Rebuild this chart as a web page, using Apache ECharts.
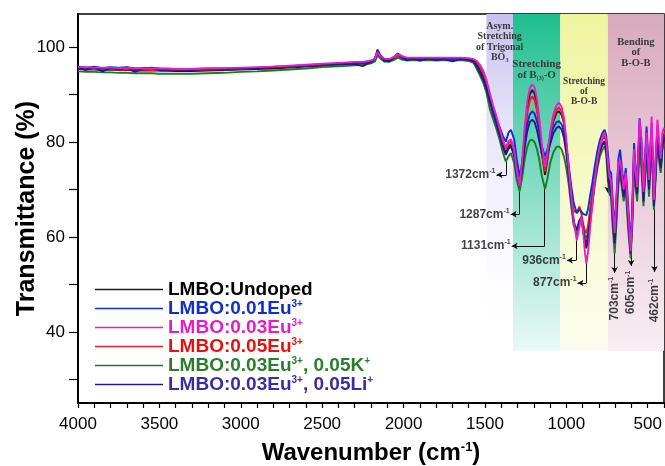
<!DOCTYPE html>
<html>
<head>
<meta charset="utf-8">
<script src="https://cdn.jsdelivr.net/npm/echarts@6/dist/echarts.min.js"></script>
<style>
  html, body { margin: 0; padding: 0; background: #fff; }
  #chart { width: 665px; height: 466px; }
</style>
</head>
<body>
<div id="chart"></div>
<script>
// ---------------------------------------------------
// FTIR data
// ---------------------------------------------------
const wavenumbers = [
  4000,3950,3900,3850,3800,3750,3700,3650,3600,3550,
  3500,3400,3300,3200,3100,3000,2900,2800,2700,2600,
  2500,2400,2300,2250,2200,2175,2160,2145,2120,2090,
  2060,2035,2010,1980,1940,1900,1850,1800,1750,1700,
  1650,1600,1570,1550,1530,1510,1490,1470,1450,1430,
  1410,1390,1372,1355,1340,1320,1305,1287,1270,1255,
  1240,1225,1210,1195,1180,1165,1150,1131,1115,1100,
  1080,1060,1045,1030,1015,1000,985,970,955,936,
  920,908,895,886,877,866,855,840,825,810,
  795,780,765,755,745,735,725,715,703,692,
  680,670,660,648,635,620,605,595,584,575,
  565,550,540,526,507,492,476,462,450,440,
  430,420,410,400
];

const undoped = [
  95.4,95.3,95.3,95.2,95.3,95.2,95.2,95.1,95.1,95.1,
  95.1,95.0,95.0,95.1,95.2,95.3,95.4,95.5,95.7,95.9,
  96.1,96.3,96.5,96.5,96.9,97.3,98.7,98.1,97.3,97.1,
  97.5,98.1,97.7,97.4,97.5,97.4,97.5,97.4,97.5,97.4,
  97.5,97.4,97.1,96.4,95.2,93.8,91.8,89.0,86.5,84.2,
  81.8,79.3,77.7,79.0,79.6,77.5,73.5,70.3,75.5,82.0,
  87.0,90.0,91.0,90.2,87.5,83.0,77.5,73.1,76.5,80.5,
  84.3,86.2,86.5,85.8,84.0,79.5,74.0,68.5,63.5,60.3,
  63.2,64.0,61.0,58.8,57.6,59.5,63.0,67.5,72.0,75.5,
  78.0,79.5,80.2,79.0,74.5,71.0,70.5,65.0,59.5,66.0,
  73.5,75.5,72.5,69.0,72.0,64.5,57.0,64.0,77.0,72.5,
  69.5,82.5,79.0,68.5,80.5,71.0,82.5,66.5,75.0,82.0,
  78.0,74.0,79.0,81.0
];

const eu001 = [
  95.9,95.7,95.9,95.6,95.8,95.7,95.8,95.5,95.6,95.7,
  95.5,95.4,95.4,95.5,95.5,95.6,95.7,95.9,96.0,96.2,
  96.4,96.6,96.7,96.7,97.1,97.6,99.3,98.4,97.6,97.3,
  97.9,98.6,98.1,97.6,97.7,97.6,97.7,97.6,97.6,97.6,
  97.6,97.5,97.2,96.2,94.8,93.3,91.5,88.8,86.4,84.8,
  83.2,81.3,80.1,82.0,82.6,80.5,76.5,72.7,76.0,80.5,
  83.8,85.8,86.5,86.0,84.3,81.8,79.0,77.0,78.6,80.8,
  83.0,84.2,84.4,83.8,82.3,79.0,75.0,70.8,67.2,65.0,
  65.8,65.5,64.8,64.6,64.6,66.0,68.5,71.5,75.0,78.0,
  80.3,81.8,82.6,81.5,77.7,74.0,73.5,68.0,61.5,68.5,
  76.5,78.4,75.0,71.0,74.5,66.5,58.5,66.0,79.8,75.0,
  71.5,85.0,81.0,71.0,83.3,73.5,83.0,69.0,77.0,82.5,
  78.5,75.0,80.0,81.5
];

const eu003 = [
  95.8,95.8,95.7,95.7,95.7,95.6,95.6,95.6,95.5,95.5,
  95.5,95.4,95.4,95.5,95.6,95.7,95.8,95.9,96.1,96.3,
  96.5,96.7,96.9,96.9,97.2,97.6,99.0,98.3,97.6,97.5,
  97.9,98.5,98.1,97.8,97.8,97.8,97.8,97.8,97.8,97.8,
  97.8,97.7,97.5,97.1,96.3,95.0,93.0,90.3,87.8,85.5,
  83.0,80.4,78.8,80.2,80.6,78.2,74.0,70.8,76.5,83.5,
  88.5,91.3,92.2,91.5,89.0,84.8,79.3,74.8,78.0,82.0,
  85.8,87.8,88.3,87.5,85.2,80.5,74.5,68.8,63.5,59.3,
  62.0,64.3,60.5,56.8,54.4,57.0,61.5,66.8,72.2,76.0,
  79.0,80.8,82.0,80.5,76.0,72.5,72.0,66.0,60.8,68.0,
  75.5,76.3,74.0,70.0,73.5,65.0,57.0,64.5,78.5,74.0,
  70.5,84.8,81.0,69.5,82.0,72.0,85.4,67.8,77.0,84.7,
  80.0,76.5,82.0,83.0
];

const eu005 = [
  95.5,95.5,95.4,95.4,95.4,95.3,95.3,95.3,95.3,95.2,
  95.2,95.2,95.2,95.3,95.4,95.5,95.6,95.8,95.9,96.1,
  96.3,96.5,96.7,96.8,97.1,97.4,98.8,98.1,97.4,97.3,
  97.7,98.2,97.8,97.5,97.6,97.6,97.6,97.6,97.6,97.6,
  97.6,97.5,97.3,96.8,95.8,94.5,92.5,89.8,87.2,85.0,
  82.6,80.2,78.6,79.8,80.2,78.0,74.0,71.0,75.5,81.5,
  86.0,88.7,89.6,88.9,86.5,82.5,77.5,73.8,77.0,81.0,
  84.8,86.8,87.3,86.5,84.3,79.5,73.5,68.5,65.5,65.2,
  66.4,65.0,62.5,61.3,60.8,62.5,65.5,69.5,73.5,76.8,
  79.0,80.5,81.2,80.0,75.5,72.0,71.5,66.0,61.0,67.5,
  74.8,76.0,73.0,69.5,73.0,65.5,58.0,65.0,77.5,73.0,
  70.0,83.5,80.0,69.5,81.5,72.0,84.0,68.0,76.5,83.5,
  79.0,75.5,80.5,82.0
];

const eu003K = [
  94.9,94.8,94.8,94.7,94.7,94.6,94.6,94.5,94.5,94.5,
  94.4,94.4,94.4,94.5,94.6,94.8,94.9,95.1,95.3,95.5,
  95.8,96.0,96.2,96.3,96.6,97.0,98.3,97.7,97.0,96.9,
  97.3,97.8,97.4,97.2,97.3,97.2,97.3,97.2,97.3,97.2,
  97.3,97.1,96.7,95.4,94.0,92.5,90.3,87.0,84.8,82.8,
  80.5,77.8,75.9,77.0,77.7,75.5,72.0,69.6,72.8,76.5,
  79.0,80.3,80.5,80.0,78.5,76.0,72.8,70.1,72.5,75.5,
  77.8,79.0,79.1,78.5,77.0,74.5,71.0,66.5,62.5,60.8,
  63.0,64.0,61.5,60.3,59.8,61.0,63.5,67.0,71.0,74.3,
  76.8,78.3,79.1,77.5,72.0,69.0,68.5,62.0,56.5,63.0,
  71.0,73.5,70.5,67.5,70.0,61.5,55.5,62.0,74.5,70.5,
  67.5,78.0,75.0,66.5,77.5,68.5,79.5,65.7,73.0,80.5,
  76.0,73.5,78.5,79.5
];

const eu003Li = [
  95.7,95.2,95.8,94.9,95.6,95.3,95.7,94.8,95.5,95.6,
  95.1,95.3,95.2,95.4,95.3,95.6,95.6,95.8,95.9,96.1,
  96.3,96.5,96.4,96.0,96.9,97.5,99.5,98.4,97.2,97.0,
  97.8,98.7,97.8,97.3,97.6,97.2,97.6,97.3,97.5,97.0,
  97.5,97.3,97.0,96.0,94.6,93.1,91.2,88.5,86.0,83.8,
  81.5,79.0,77.3,78.6,79.1,77.0,73.4,71.0,74.5,79.0,
  82.3,84.2,84.7,84.2,82.5,80.0,77.5,75.9,77.5,79.5,
  81.8,83.0,83.3,82.7,81.0,77.5,72.8,67.5,63.0,61.5,
  63.5,64.2,61.0,59.4,58.7,60.3,63.5,67.5,71.8,75.2,
  77.8,79.3,80.0,78.5,73.8,70.2,69.5,63.5,58.7,65.0,
  73.0,75.0,72.0,68.5,72.0,63.0,56.5,63.5,76.5,72.0,
  69.0,83.0,78.5,67.5,79.5,70.0,81.5,66.5,74.5,81.5,
  77.5,74.5,79.5,80.5
];

const xTickLabels = [4000, 3500, 3000, 2500, 2000, 1500, 1000, 500];
const xMinorTicks = [];
for (let w = 4000; w >= 400; w -= 100) xMinorTicks.push(w);
const yTickLabels = [40, 60, 80, 100];
const yTicks = [30, 40, 50, 60, 70, 80, 90, 100];

// spectral regions [from, to] in cm-1
const bandRanges = [[1491, 1328], [1328, 1037], [1037, 745], [745, 400]];

// peak markers: horizontal label ones
const hPeaks = [
  { label: "1372", w: 1368, top: 75.9, low: 73.1, tip: 1429 },
  { label: "1287", w: 1287, top: 69.6, low: 64.8, tip: 1342 },
  { label: "1131", w: 1133, top: 70.1, low: 58.1, tip: 1336 },
  { label: "936",  w: 939,  top: 59.3, low: 55.1, tip: 997 },
  { label: "877",  w: 877,  top: 55.7, low: 50.3, tip: 931 }
];
// vertical (rotated) label ones
const vPeaks = [
  { label: "703", w: 703, top: 56.6, low: 52.4, text: 47.0 },
  { label: "605", w: 602, top: 57.7, low: 53.9, text: 48.3 },
  { label: "462", w: 458, top: 65.7, low: 52.6, text: 46.6 }
];
const extraArrow = { w: 745, top: 74.8, low: 69.3 };

// ---------------------------------------------------
// Series definitions
// ---------------------------------------------------
const FONT = 'Arial, "Liberation Sans", sans-serif';
const SERIF = '"Times New Roman", "Liberation Serif", serif';

const seriesDefs = [
  { name: "undoped", values: undoped, color: "#1c1c1c", text: "#000000", label: "LMBO:Undoped" },
  { name: "eu001",   values: eu001,   color: "#0e2fd2", text: "#0e2fd2", label: "LMBO:0.01Eu{sup|3+}" },
  { name: "eu003",   values: eu003,   color: "#ea1ccb", text: "#e61cc6", label: "LMBO:0.03Eu{sup|3+}" },
  { name: "eu005",   values: eu005,   color: "#ee1c1c", text: "#e8100f", label: "LMBO:0.05Eu{sup|3+}" },
  { name: "eu003K",  values: eu003K,  color: "#1f7a22", text: "#2a7d2c", label: "LMBO:0.03Eu{sup|3+}, 0.05K{sup|+}" },
  { name: "eu003Li", values: eu003Li, color: "#211b86", text: "#3a2da3", label: "LMBO:0.03Eu{sup|3+}, 0.05Li{sup|+}" }
];

// draw order: magenta on top in the fingerprint area
const drawOrder = ["undoped", "eu005", "eu003K", "eu001", "eu003Li", "eu003"];

const lineSeries = drawOrder.map((key, idx) => {
  const d = seriesDefs.find(s => s.name === key);
  return {
    name: d.name,
    type: "line",
    showSymbol: false,
    symbol: "none",
    z: 3 + idx,
    lineStyle: { color: d.color, width: 1.9 },
    itemStyle: { color: d.color },
    data: wavenumbers.map((w, i) => [w, d.values[i]])
  };
});

const grad = (top, bottom) =>
  new echarts.graphic.LinearGradient(0, 0, 0, 1, [
    { offset: 0, color: top },
    { offset: 1, color: bottom }
  ]);

const bandStyles = [
  { color: grad("#c8c1f1", "rgba(255,255,255,0)"), dist: 7,  size: 10, lh: 10.5,
    text: "Asym.\nStretching\nof Trigonal\nBO{sub|3}" },
  { color: grad("#1fbf8f", "#eaf9f8"), dist: 45, size: 11, lh: 11,
    text: "Stretching\nof B{sub|(3)}-O" },
  { color: grad("#eef59f", "#fdfdf0"), dist: 63, size: 9.5, lh: 10,
    text: "Stretching\nof\nB-O-B" },
  { color: grad("#d9a9be", "#f8eef3"), dist: 23, size: 10.5, lh: 10.5,
    text: "Bending\nof\nB-O-B" }
];

const bandSeries = {
  name: "bands",
  type: "line",
  data: [],
  z: 1,
  markArea: {
    silent: true,
    data: bandRanges.map((r, i) => [
      {
        xAxis: r[0], yAxis: 107,
        itemStyle: { color: bandStyles[i].color },
        label: {
          show: true,
          position: "insideTop",
          distance: bandStyles[i].dist,
          formatter: bandStyles[i].text,
          fontFamily: SERIF,
          fontWeight: "bold",
          fontSize: bandStyles[i].size,
          lineHeight: bandStyles[i].lh,
          color: "#3a3a3a",
          align: "center",
          rich: {
            sub: { fontSize: 6, fontFamily: SERIF, fontWeight: "bold", color: "#3a3a3a", verticalAlign: "bottom", lineHeight: bandStyles[i].lh }
          }
        }
      },
      { xAxis: r[1], yAxis: 36 }
    ])
  }
};

// arrows for peak annotations
const arrowLines = [];
hPeaks.forEach(p => {
  arrowLines.push([{ coord: [p.w, p.top], symbol: "none" }, { coord: [p.w, p.low], symbol: "none" }]);
  arrowLines.push([{ coord: [p.w, p.low], symbol: "none" }, { coord: [p.tip, p.low], symbol: "arrow", symbolSize: [5, 6] }]);
});
vPeaks.forEach(p => {
  arrowLines.push([{ coord: [p.w, p.top], symbol: "none" }, { coord: [p.w, p.low], symbol: "arrow", symbolSize: [5, 6] }]);
});
arrowLines.push([
  { coord: [extraArrow.w, extraArrow.top], symbol: "none" },
  { coord: [extraArrow.w, extraArrow.low], symbol: "arrow", symbolSize: [5, 6] }
]);

const arrowSeries = {
  name: "arrows",
  type: "line",
  data: [],
  z: 20,
  markLine: {
    silent: true,
    animation: false,
    label: { show: false },
    lineStyle: { color: "#111", width: 1, type: "solid" },
    data: arrowLines
  }
};

const peakRich = {
  n: { fontFamily: FONT, fontWeight: "bold", fontSize: 12, color: "#111" },
  s: { fontFamily: FONT, fontWeight: "bold", fontSize: 7, color: "#111", verticalAlign: "top", lineHeight: 14 }
};

const peakLabelSeries = {
  name: "peakLabels",
  type: "scatter",
  symbolSize: 0,
  z: 21,
  silent: true,
  data: [
    ...hPeaks.map(p => ({
      value: [p.tip, p.low],
      label: {
        show: true, position: "left", distance: 1,
        formatter: `{n|${p.label}cm}{s|-1}`, rich: peakRich
      }
    })),
    ...vPeaks.map(p => ({
      value: [p.w, p.text],
      label: {
        show: true, position: "inside", rotate: 90,
        formatter: `{n|${p.label}cm}{s|-1}`, rich: peakRich
      }
    }))
  ]
};

// ---------------------------------------------------
// Chart
// ---------------------------------------------------
const chart = echarts.init(document.getElementById("chart"));

chart.setOption({
  animation: false,
  backgroundColor: "#ffffff",
  grid: {
    left: 78, right: 1, top: 14, bottom: 63,
    outerBoundsMode: "none",
    containLabel: false,
    show: true, borderColor: "#000", borderWidth: 1.5
  },
  legend: {
    orient: "vertical",
    left: 95,
    top: 280,
    padding: 0,
    itemWidth: 68,
    itemHeight: 14,
    itemGap: 0,
    icon: "path://M0,6.2 L68,6.2 L68,7.8 L0,7.8 Z",
    data: seriesDefs.map(d => ({
      name: d.name,
      itemStyle: { color: d.color },
      textStyle: { color: d.text }
    })),
    formatter: name => seriesDefs.find(d => d.name === name).label,
    textStyle: {
      fontFamily: FONT,
      fontWeight: "bold",
      fontSize: 19,
      rich: {
        sup: { fontFamily: FONT, fontWeight: "bold", fontSize: 10, verticalAlign: "top", lineHeight: 14 }
      }
    }
  },
  xAxis: {
    type: "value",
    inverse: true,
    min: 400,
    max: 4000,
    name: "Wavenumber (cm{sup|-1})",
    nameLocation: "middle",
    nameGap: 38,
    nameTextStyle: {
      fontFamily: FONT, fontWeight: "bold", fontSize: 24, color: "#000",
      rich: { sup: { fontFamily: FONT, fontWeight: "bold", fontSize: 13, verticalAlign: "top", lineHeight: 24 } }
    },
    axisLine: { lineStyle: { color: "#000", width: 2 } },
    axisTick: { inside: false, length: 5, lineStyle: { color: "#000", width: 1.2 }, customValues: xMinorTicks },
    axisLabel: {
      color: "#000", fontFamily: FONT, fontSize: 17, margin: 13,
      customValues: xTickLabels, formatter: v => String(v)
    },
    splitLine: { show: false }
  },
  yAxis: {
    type: "value",
    min: 25,
    max: 107,
    name: "Transmittance (%)",
    nameLocation: "middle",
    nameGap: 38,
    nameMoveOverlap: false,
    nameTextStyle: { fontFamily: FONT, fontWeight: "bold", fontSize: 25, color: "#000" },
    axisLine: { lineStyle: { color: "#000", width: 2 } },
    axisTick: { inside: false, length: 9, lineStyle: { color: "#000", width: 1.2 }, customValues: yTicks },
    axisLabel: {
      color: "#000", fontFamily: FONT, fontSize: 17, margin: 13,
      customValues: yTickLabels, formatter: v => String(v)
    },
    splitLine: { show: false }
  },
  series: [bandSeries, ...lineSeries, arrowSeries, peakLabelSeries]
});
</script>
</body>
</html>
